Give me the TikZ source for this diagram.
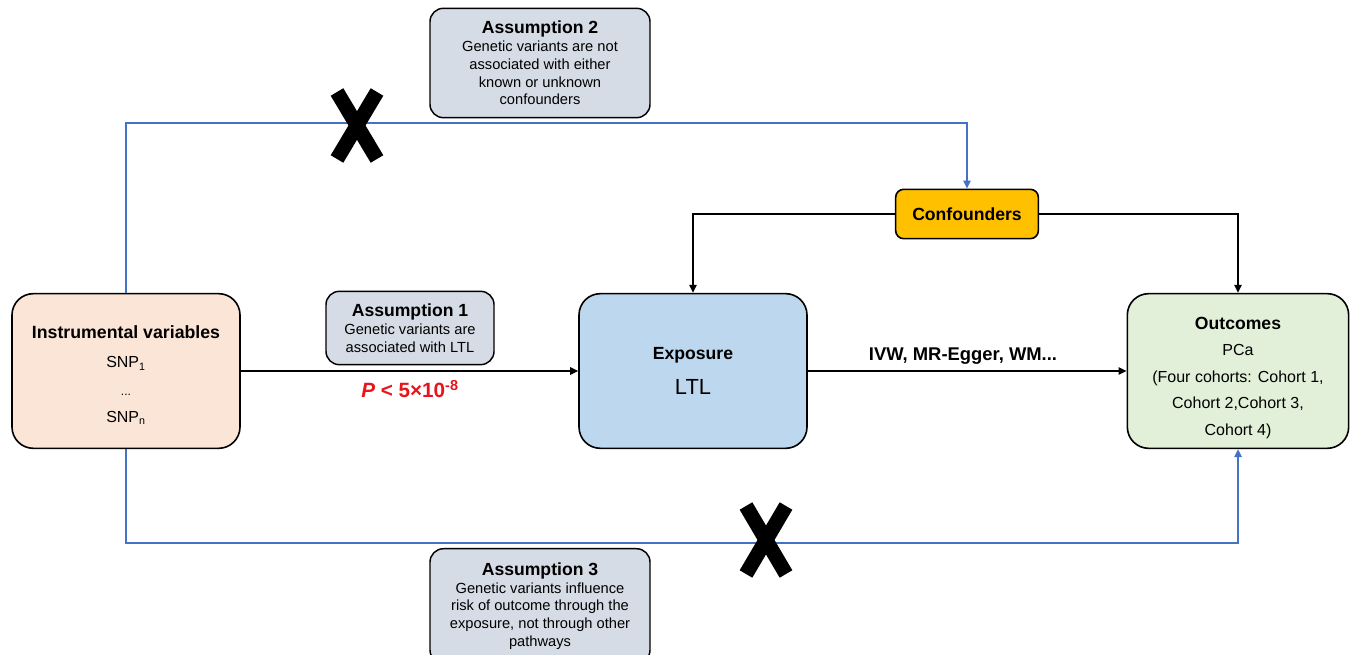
\documentclass[tikz,border=0pt]{standalone}
\usepackage{fontspec}
\setmainfont{Liberation Sans}
\usetikzlibrary{arrows.meta}

\definecolor{ivfill}{HTML}{FBE5D6}
\definecolor{expfill}{HTML}{BDD7EE}
\definecolor{outfill}{HTML}{E2F0D9}
\definecolor{conffill}{HTML}{FFC000}
\definecolor{asfill}{HTML}{D6DCE5}
\definecolor{pathblue}{HTML}{4472C4}
\definecolor{pred}{HTML}{E8141B}

\begin{document}
\begin{tikzpicture}[x=0.75pt,y=-0.75pt,
	bigbox/.style={draw=black, line width=1.2pt, rounded corners=16pt, align=center,
		minimum width=171pt, minimum height=116pt, inner sep=0pt, font=\fontsize{12}{14.4}\selectfont},
	boxtext/.style={align=center, inner sep=0pt, font=\fontsize{12}{14.4}\selectfont},
	asbox/.style={draw=black, line width=1.1pt, rounded corners=10pt, fill=asfill, align=center,
		inner sep=0pt, font=\fontsize{11}{13.3}\selectfont},
	title/.style={font=\fontsize{13.2}{15.5}\selectfont\bfseries},
	blackline/.style={draw=black, line width=1.3pt, -{Triangle[length=6pt,width=5.5pt]}},
	blueline/.style={draw=pathblue, line width=1.3pt, -{Triangle[length=6pt,width=5.5pt]}},
	cross/.style={draw=black, line width=11pt}]

	\useasboundingbox (0,0) rectangle (1354,655);

	% main boxes
	\node[bigbox, fill=ivfill] (iv) at (126,371) {};
	\node[boxtext] (ivtext) at ([yshift=-3pt]iv.center)
		{{\fontsize{13.3}{15.5}\selectfont\bfseries Instrumental variables}\\[8pt]
		 SNP\textsubscript{1}\\[6pt] {\fontsize{9}{11}\selectfont ...}\\[6pt] SNP\textsubscript{n}};
	\node[bigbox, fill=expfill] (exp) at (693,371)
		{{\fontsize{13.2}{15.5}\selectfont\bfseries Exposure}\\[12pt]
		 {\fontsize{16.4}{19}\selectfont LTL}};
	\node[bigbox, fill=outfill, minimum width=166pt] (out) at (1238,371) {};
	\node[boxtext] (outtext) at ([yshift=-5pt]out.center)
		{{\fontsize{13.2}{15.5}\selectfont\bfseries Outcomes}\\[5.5pt]
		 PCa\\[5.5pt] (Four cohorts: Cohort 1,\\[5.5pt] Cohort 2,Cohort 3,\\[5.5pt] Cohort 4)};
	\node[draw=black, line width=1.2pt, rounded corners=6pt, fill=conffill,
		minimum width=107pt, minimum height=37pt, title] (conf) at (967,214) {Confounders};

	% assumption boxes
	\node[asbox, minimum width=126pt, minimum height=55pt] (a1) at (410,328)
		{{\fontsize{13.2}{15.5}\selectfont\bfseries Assumption 1}\\
		 Genetic variants are\\ associated with LTL};
	\node[asbox, minimum width=165pt, minimum height=82pt] (a2) at (540,63)
		{{\fontsize{13.2}{15.5}\selectfont\bfseries Assumption 2}\\
		 Genetic variants are not\\ associated with either\\ known or unknown\\ confounders};
	\node[asbox, minimum width=165pt, minimum height=86pt, anchor=north] (a3) at (540,548)
		{{\fontsize{13.2}{15.5}\selectfont\bfseries Assumption 3}\\
		 Genetic variants influence\\ risk of outcome through the\\ exposure, not through other\\ pathways};

	% labels on the arrows
	\node[text=pred, font=\fontsize{15.5}{18}\selectfont\bfseries] (pval) at (410,389)
		{\textit{P} < 5×10\textsuperscript{-8}};
	\node[font=\fontsize{13.8}{16}\selectfont\bfseries] (methods) at (963,356)
		{IVW, MR-Egger, WM...};

	% connectors
	\draw[blackline] (iv.east) -- (exp.west);
	\draw[blackline] (exp.east) -- (out.west);
	\draw[blackline] (conf.west) -| (exp.north);
	\draw[blackline] (conf.east) -| (out.north);
	\draw[blueline] (iv.north) -- ++(0,-170) -| (conf.north);
	\draw[blueline] (iv.south) -- ++(0,94) -| (out.south);

	% crosses on the blue paths
	\draw[cross] (337,92) -- (377,159);
	\draw[cross] (377,92) -- (337,159);
	\draw[cross] (746,506) -- (786,574);
	\draw[cross] (786,506) -- (746,574);
\end{tikzpicture}
\end{document}
